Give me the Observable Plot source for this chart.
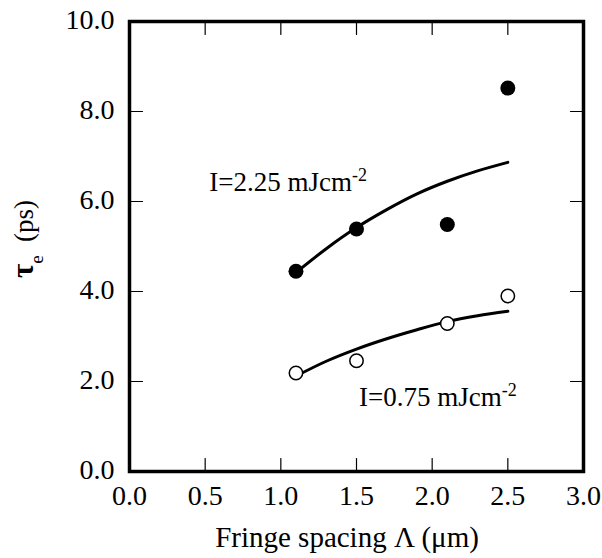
<!DOCTYPE html>
<html>
<head>
<meta charset="utf-8">
<script src="https://cdn.jsdelivr.net/npm/d3@7"></script>
<script src="https://cdn.jsdelivr.net/npm/@observablehq/plot@0.6"></script>
<style>
  html, body { margin: 0; padding: 0; background: #fff; }
  #chart svg { display: block; }
</style>
</head>
<body>
<div id="chart"></div>
<script>
// Measured data
const spacing = [1.1, 1.5, 2.1, 2.5];
const tauHigh = [4.45, 5.39, 5.49, 8.52];   // I = 2.25 mJ/cm^2 (filled)
const tauLow  = [2.19, 2.46, 3.29, 3.90];   // I = 0.75 mJ/cm^2 (open)

// Fitted curves
const fitX    = [1.1, 1.3, 1.5, 1.7, 1.9, 2.1, 2.3, 2.5];
const fitHigh = [4.42, 4.95, 5.42, 5.82, 6.17, 6.45, 6.68, 6.87];
const fitLow  = [2.12, 2.45, 2.72, 2.95, 3.15, 3.33, 3.46, 3.56];

// Axes
const xTicks = [0.0, 0.5, 1.0, 1.5, 2.0, 2.5, 3.0];
const yTicks = [0.0, 2.0, 4.0, 6.0, 8.0, 10.0];
const xInnerTicks = [0.5, 1.0, 1.5, 2.0, 2.5];
const yInnerTicks = [2.0, 4.0, 6.0, 8.0];

// Annotations
const labels = [
  {x: 0.53, y: 6.23, main: "I=2.25 mJcm", sup: "-2"},
  {x: 1.52, y: 1.44, main: "I=0.75 mJcm", sup: "-2"}
];

const highPts = spacing.map((s, i) => ({x: s, y: tauHigh[i]}));
const lowPts  = spacing.map((s, i) => ({x: s, y: tauLow[i]}));
const fitHighPts = fitX.map((s, i) => ({x: s, y: fitHigh[i]}));
const fitLowPts  = fitX.map((s, i) => ({x: s, y: fitLow[i]}));

const tickShape = {draw(ctx, l) { ctx.moveTo(0, 0); ctx.lineTo(0, -l); }};
const FONT = "'Liberation Serif', 'Times New Roman', serif";

const plot = Plot.plot({
  width: 602,
  height: 558,
  marginLeft: 129,
  marginRight: 19,
  marginTop: 21,
  marginBottom: 87,
  style: {fontFamily: FONT, fontSize: "28px", color: "black", background: "white"},
  x: {domain: [0, 3], axis: null},
  y: {domain: [0, 10], axis: null},
  marks: [
    // tick labels
    Plot.text(xTicks, {x: d => d, y: 0, text: d => d.toFixed(1), dy: 25, lineAnchor: "middle", textAnchor: "middle", fontSize: 28, fontFamily: FONT, fill: "black"}),
    Plot.text(yTicks, {x: 0, y: d => d, text: d => d.toFixed(1), dx: -15, dy: -1, lineAnchor: "middle", textAnchor: "end", fontSize: 28, fontFamily: FONT, fill: "black"}),
    // inward tick marks on all four sides
    Plot.vector(xInnerTicks, {x: d => d, y: 0, length: 13, rotate: 0, anchor: "start", shape: tickShape, stroke: "black", strokeWidth: 1.2}),
    Plot.vector(xInnerTicks, {x: d => d, y: 10, length: 13, rotate: 180, anchor: "start", shape: tickShape, stroke: "black", strokeWidth: 1.2}),
    Plot.vector(yInnerTicks, {x: 0, y: d => d, length: 13, rotate: 90, anchor: "start", shape: tickShape, stroke: "black", strokeWidth: 1.2}),
    Plot.vector(yInnerTicks, {x: 3, y: d => d, length: 13, rotate: -90, anchor: "start", shape: tickShape, stroke: "black", strokeWidth: 1.2}),
    Plot.line(fitHighPts, {x: "x", y: "y", curve: "monotone-x", stroke: "black", strokeWidth: 3}),
    Plot.line(fitLowPts, {x: "x", y: "y", curve: "monotone-x", stroke: "black", strokeWidth: 3}),
    Plot.dot(highPts, {x: "x", y: "y", r: 7.5, fill: "black", stroke: "none"}),
    Plot.dot(lowPts, {x: "x", y: "y", r: 6.7, fill: "white", stroke: "black", strokeWidth: 1.5}),
    Plot.frame({stroke: "black", strokeWidth: 3.5})
  ]
});

document.getElementById("chart").appendChild(plot);

const svg = d3.select(plot);
const xs = plot.scale("x");
const ys = plot.scale("y");

// annotations with superscripts
for (const l of labels) {
  const t = svg.append("text")
    .attr("x", xs.apply(l.x))
    .attr("y", ys.apply(l.y))
    .attr("text-anchor", "start")
    .attr("font-family", FONT)
    .attr("font-size", 27)
    .attr("fill", "black");
  t.append("tspan").text(l.main);
  t.append("tspan").attr("font-size", 18).attr("dy", -10).text(l.sup);
}

// x-axis label
svg.append("text")
  .attr("x", 347)
  .attr("y", 547)
  .attr("text-anchor", "middle")
  .attr("font-family", FONT)
  .attr("font-size", 29)
  .attr("fill", "black")
  .text("Fringe spacing Λ (μm)");

// y-axis label: bold tau, subscript e, (ps)
const yl = svg.append("text")
  .attr("transform", "translate(33,239) rotate(-90)")
  .attr("text-anchor", "middle")
  .attr("font-family", FONT)
  .attr("font-size", 27)
  .attr("fill", "black");
yl.append("tspan").attr("font-weight", "bold").attr("font-size", 31).text("τ");
yl.append("tspan").attr("font-size", 19).attr("dy", 10).text("e");
yl.append("tspan").attr("dy", -10).text("  (ps)");
</script>
</body>
</html>
